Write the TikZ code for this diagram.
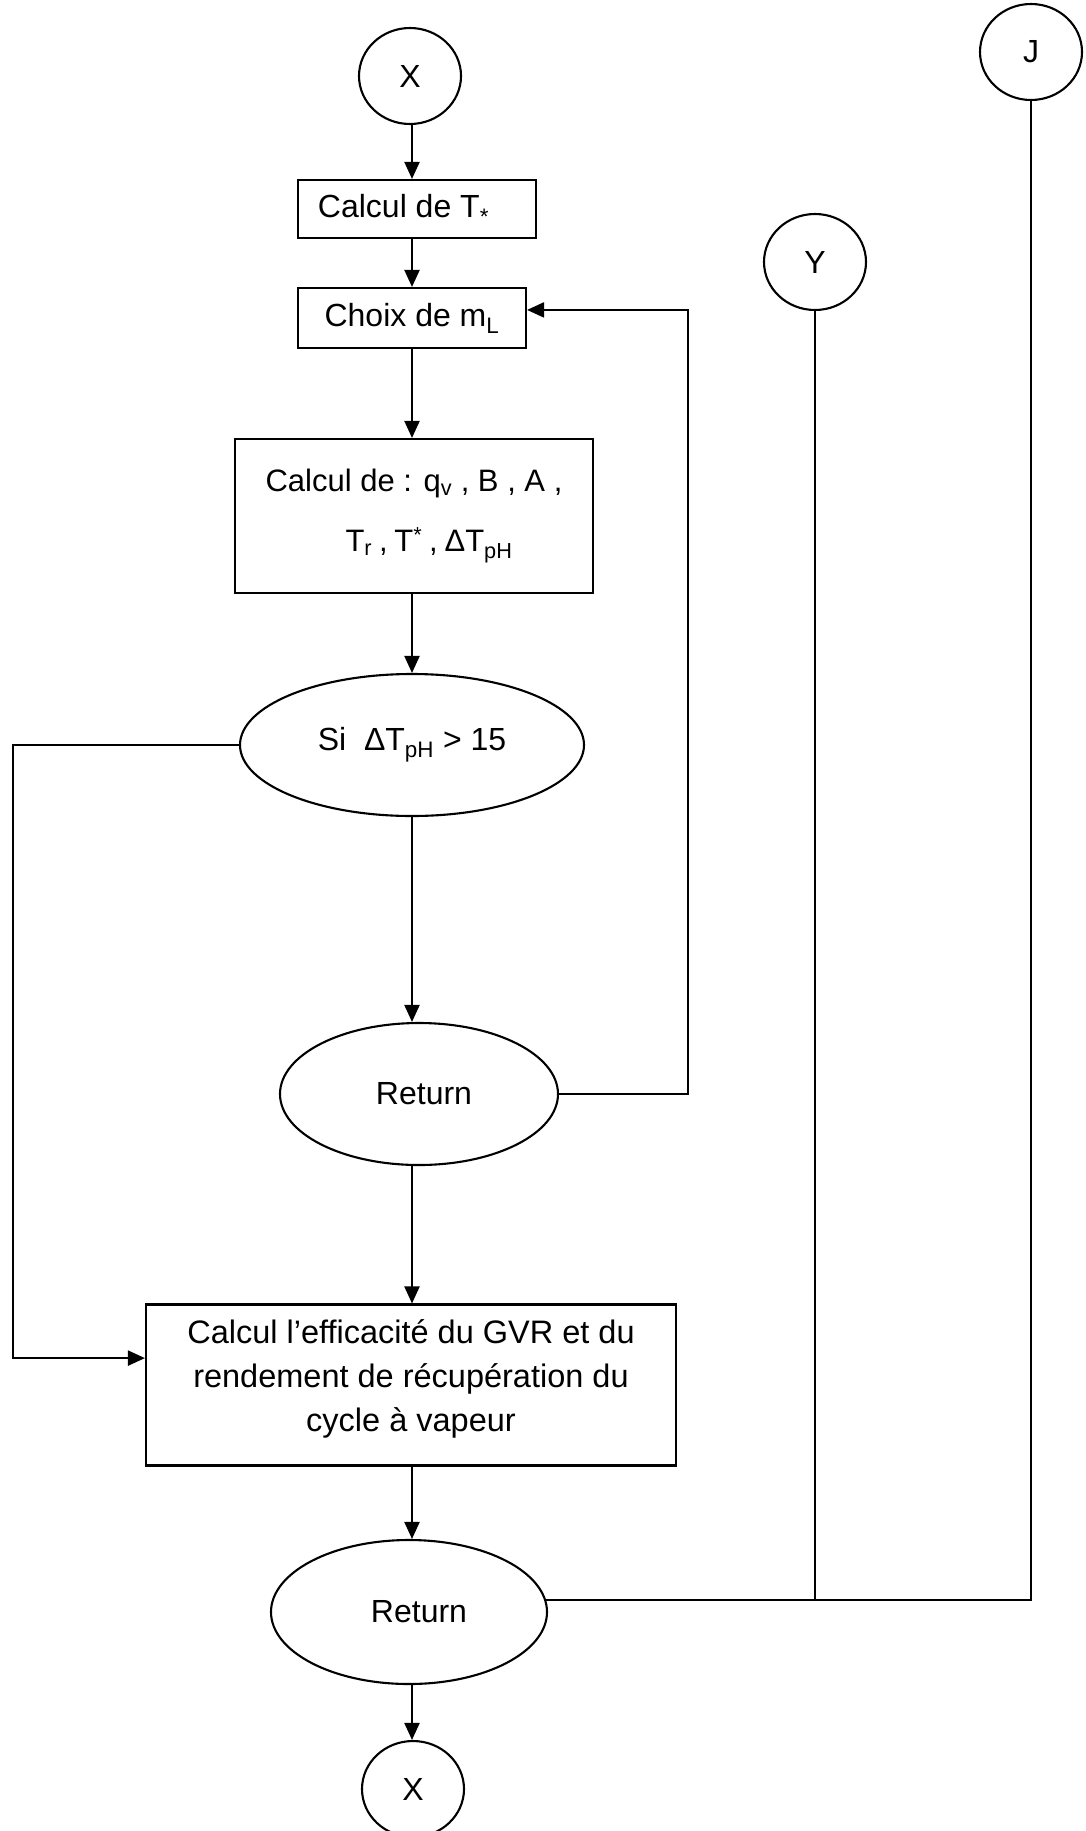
\documentclass[tikz,border=0pt]{standalone}
\usepackage{fontspec}
\setmainfont{Liberation Sans}
\usetikzlibrary{shapes.geometric,arrows.meta,calc}

\begin{document}
\begin{tikzpicture}[x=1pt,y=-1pt,
  every node/.style={font=\fontsize{32}{44}\selectfont, inner sep=0pt},
  line/.style={line width=2.1pt},
  arr/.style={line width=2.1pt, -{Triangle[length=17pt,width=15pt]}},
  conn/.style={draw, line width=2.1pt, ellipse, minimum width=102pt, minimum height=96pt},
  stepbox/.style={draw, line width=2.1pt, rectangle, align=center},
  oval/.style={draw, line width=2.1pt, ellipse}]

\useasboundingbox (0,0) rectangle (1085,1831);

% connectors (circles)
\node[conn] (xtop) at (410,76)   {X};
\node[conn] (yc)   at (815,262)  {Y};
\node[conn] (jc)   at (1031,52)  {J};
\node[conn] (xbot) at (413,1789) {X};

% main column
\node[stepbox, minimum width=238pt, minimum height=58pt] (tstar) at (417,209) {Calcul de T\textsubscript{*}\hspace*{27pt}};
\node[stepbox, minimum width=228pt, minimum height=60pt] (choix) at (412,318) {Choix de m\textsubscript{L}};
\node[stepbox, minimum width=358pt, minimum height=154pt,
      font=\fontsize{31}{60}\selectfont] (calc) at (414,516)
  {Calcul de : q\textsubscript{v} , B , A ,\\
   \hspace*{30pt}T\textsubscript{r}\hspace{0.22em},\hspace{0.22em}T\textsuperscript{*}\hspace{0.22em},\hspace{0.22em}ΔT\textsubscript{pH}};
\node[oval, minimum width=344pt, minimum height=142pt] (si) at (412,745) {Si\ \ ΔT\textsubscript{pH} > 15};
\node[oval, minimum width=278pt, minimum height=142pt] (ret1) at (419,1094) {\hspace*{10pt}Return};
\node[stepbox, minimum width=530pt, minimum height=161pt,
      font=\fontsize{32.5}{44}\selectfont] (eff) at (411,1385)
  {Calcul l’efficacité du GVR et du\\ rendement de récupération du\\ cycle à vapeur\\[-26pt]};
\node[oval, minimum width=276pt, minimum height=144pt] (ret2) at (409,1612) {\hspace*{20pt}Return};

% vertical flow
\draw[arr] (xtop.south -| 412,0) -- (tstar.north -| 412,0);
\draw[arr] (tstar.south -| 412,0) -- (choix.north -| 412,0);
\draw[arr] (choix.south -| 412,0) -- (calc.north -| 412,0);
\draw[arr] (calc.south -| 412,0) -- (si.north -| 412,0);
\draw[arr] (si.south -| 412,0) -- (ret1.north -| 412,0);
\draw[arr] (ret1.south -| 412,0) -- (eff.north -| 412,0);
\draw[arr] (eff.south -| 412,0) -- (ret2.north -| 412,0);
\draw[arr] (ret2.south -| 412,0) -- (xbot.north -| 412,0);

% bypass on the left
\coordinate (lft) at (13,0);
\coordinate (effin) at ($(eff.north west)!0.335!(eff.south west)$);
\draw[arr] (si.west) -- (lft |- si.west) -- (lft |- effin) -- (effin);

% loop back to the choice of m_L
\coordinate (rgt) at (688,0);
\coordinate (choixin) at ($(choix.north east)!0.37!(choix.south east)$);
\draw[arr] (ret1.east) -- (rgt |- ret1.east) -- (rgt |- choixin) -- (choixin);

% links to Y and J
\draw[line] (ret2.5) -- (jc.south |- ret2.5) -- (jc.south);
\draw[line] (yc.south) -- (yc.south |- ret2.5);

\end{tikzpicture}
\end{document}
